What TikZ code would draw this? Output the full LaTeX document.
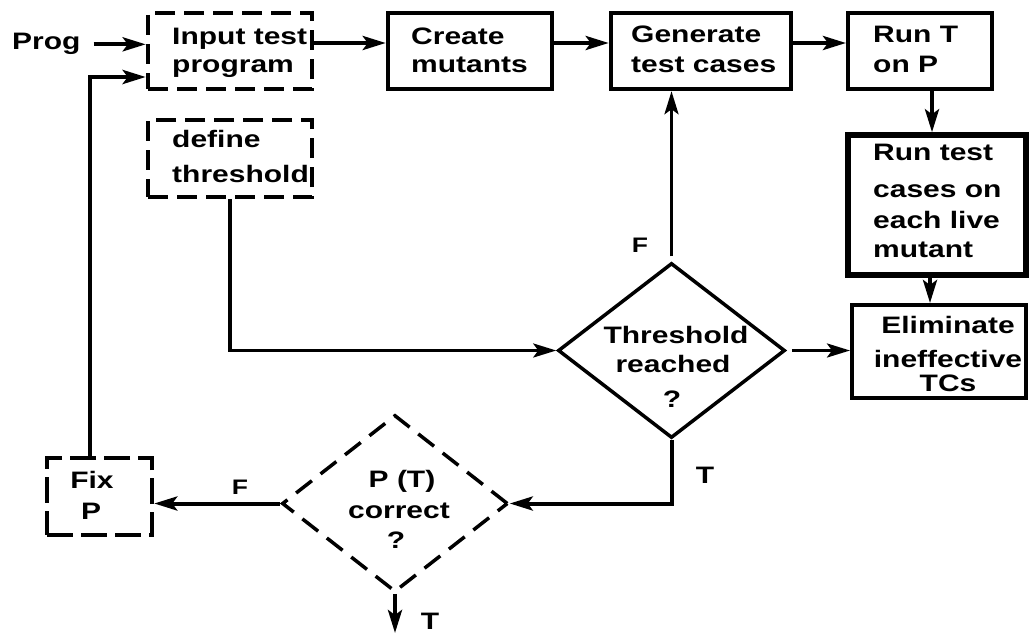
\documentclass[tikz,border=0pt]{standalone}
\usepackage{fontspec}
\newfontfamily\lab{Liberation Sans}[FakeStretch=1.26]
\usetikzlibrary{arrows.meta,shapes.geometric}

\begin{document}
\begin{tikzpicture}[x=1pt,y=-1pt,
  solidbox/.style={draw,line width=4.5pt,inner sep=0pt},
  dashbox/.style={draw,line width=4.5pt,inner sep=0pt,dash pattern=on 20pt off 9pt},
  decision/.style={diamond,draw,line width=3.5pt,inner sep=0pt},
  txt/.style={inner sep=0pt,font=\lab\bfseries\fontsize{23.8}{28}\selectfont},
  lt/.style={txt,anchor=base west},
  ct/.style={txt,anchor=base},
  flag/.style={inner sep=0pt,anchor=base,font=\lab\bfseries\fontsize{21}{25}\selectfont},
  arr/.style={line width=4pt,-{Stealth[length=23pt,width=14pt,inset=5pt]}},
  thinarr/.style={arr,line width=3.2pt}]

\useasboundingbox (0,0) rectangle (1030,634);

% process boxes
\node[dashbox,minimum width=164pt,minimum height=76pt] (input) at (230,51) {};
\node[dashbox,minimum width=164pt,minimum height=77pt] (define) at (230,158.5) {};
\node[solidbox,minimum width=164pt,minimum height=76pt] (create) at (470,51) {};
\node[solidbox,minimum width=180pt,minimum height=76pt] (gen) at (701,51) {};
\node[solidbox,line width=4pt,minimum width=144pt,minimum height=76pt] (runT) at (920,51) {};
\node[solidbox,line width=5.5pt,minimum width=178pt,minimum height=140pt] (runtest) at (937,205) {};
\node[solidbox,line width=4pt,minimum width=174pt,minimum height=93pt] (elim) at (939,351.5) {};
\node[dashbox,dash pattern=on 26pt off 8pt,minimum width=105pt,minimum height=77pt] (fix) at (99.5,496.5) {};

% decisions
\node[decision,minimum width=227pt,minimum height=175pt] (thr) at (671.5,350.5) {};
\node[decision,dash pattern=on 20pt off 11pt,minimum width=226pt,minimum height=177pt] (pt) at (395,503.5) {};

% texts
\node[lt] (prog) at (12,50) {Prog};
\node[lt] (in1) at (172,45) {Input test};
\node[lt] (in2) at (172,72) {program};
\node[lt] (cr1) at (411,45) {Create};
\node[lt] (cr2) at (411,73) {mutants};
\node[lt] (ge1) at (631,43) {Generate};
\node[lt] (ge2) at (631,72) {test cases};
\node[lt] (rt1) at (873,43) {Run T};
\node[lt] (rt2) at (873,73) {on P};
\node[lt] (de1) at (172,147) {define};
\node[lt] (de2) at (172,182) {threshold};
\node[lt] (rc1) at (873,160) {Run test};
\node[lt] (rc2) at (873,197) {cases on};
\node[lt] (rc3) at (873,228) {each live};
\node[lt] (rc4) at (873,257) {mutant};
\node[ct] (el1) at (948,333) {Eliminate};
\node[ct] (el2) at (948,367) {ineffective};
\node[ct] (el3) at (948,391) {TCs};
\node[ct] (th1) at (676,343) {Threshold};
\node[ct] (th2) at (673,372) {reached};
\node[ct] (th3) at (672,407) {?};
\node[ct] (pc1) at (402,487) {P (T)};
\node[ct] (pc2) at (399,518) {correct};
\node[ct] (pc3) at (396,548) {?};
\node[ct] (fx1) at (92,488) {Fix};
\node[ct] (fx2) at (91,519) {P};

% branch labels
\node[flag] (fthr) at (640,252) {F};
\node[ct] (tthr) at (705,483) {T};
\node[flag] (fpt) at (240,494) {F};
\node[ct] (tpt) at (430,629) {T};

\coordinate (out) at (395,633);

% connectors
\draw[arr] ([xshift=13pt]prog.east) -- (prog.east -| input.west);
\draw[arr,line width=4.2pt] ([xshift=-9.5pt]fix.north) |- ([yshift=-26pt]input.west);
\draw[arr] ([yshift=8pt]input.east) -- ([yshift=8pt]create.west);
\draw[arr] ([yshift=8pt]create.east) -- ([yshift=8pt]gen.west);
\draw[arr] ([yshift=8pt]gen.east) -- ([yshift=8pt]runT.west);
\draw[arr] ([xshift=12pt]runT.south) -- ([xshift=12pt]runT.south |- runtest.north);
\draw[arr] ([xshift=-7pt]runtest.south) -- ([xshift=-7pt]runtest.south |- elim.north);
\draw[thinarr] ([xshift=5pt]thr.east) -- (thr.east -| elim.west);
\draw[thinarr] ([yshift=5pt]thr.north) -- (thr.north |- gen.south);
\draw[thinarr] (define.south) |- (thr.west);
\draw[arr] (thr.south) |- (pt.east);
\draw[arr] (pt.west) -- (pt.west -| fix.east);
\draw[arr] (pt.south) -- (out);
\end{tikzpicture}
\end{document}
